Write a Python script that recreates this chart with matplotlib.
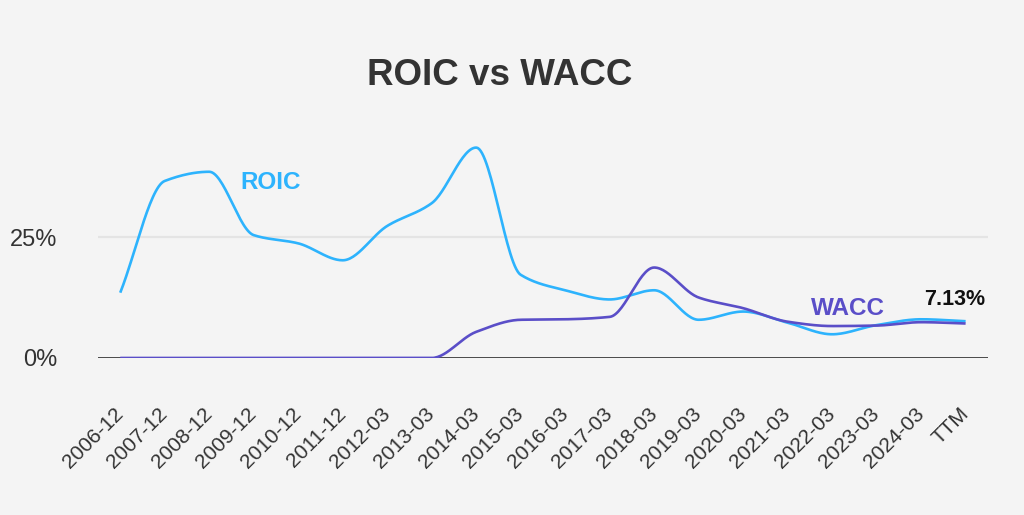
import numpy as np
import matplotlib
matplotlib.use("Agg")
import matplotlib.pyplot as plt
from matplotlib.ticker import FixedLocator

# data (percent)
periods = ["2006-12", "2007-12", "2008-12", "2009-12", "2010-12", "2011-12",
           "2012-03", "2013-03", "2014-03", "2015-03", "2016-03", "2017-03",
           "2018-03", "2019-03", "2020-03", "2021-03", "2022-03", "2023-03",
           "2024-03", "TTM"]
roic = [13.5, 36.6, 38.5, 25.4, 23.7, 20.2, 27.3, 32.0, 43.5, 17.2,
        14.0, 12.1, 14.0, 7.9, 9.6, 7.3, 4.9, 6.8, 8.0, 7.6]
wacc = [0.0, 0.0, 0.0, 0.0, 0.0, 0.0, 0.0, 0.0, 5.4, 7.9,
        8.0, 8.5, 18.7, 12.5, 10.3, 7.5, 6.6, 6.7, 7.4, 7.13]
y_ticks = [0, 25]

roic_color = "#2db3fd"
wacc_color = "#5a4ec8"
bg = "#f4f4f4"


def smooth(values, steps=30):
    # monotone cubic curve through the points, only for drawing the line
    y = np.asarray(values, dtype=float)
    n = len(y)
    d = np.diff(y)
    m = np.zeros(n)
    m[0], m[-1] = d[0], d[-1]
    for i in range(1, n - 1):
        if d[i - 1] * d[i] > 0:
            m[i] = 2 * d[i - 1] * d[i] / (d[i - 1] + d[i])
    xs, ys = [], []
    t = np.linspace(0, 1, steps, endpoint=False)
    h00 = 2 * t ** 3 - 3 * t ** 2 + 1
    h10 = t ** 3 - 2 * t ** 2 + t
    h01 = -2 * t ** 3 + 3 * t ** 2
    h11 = t ** 3 - t ** 2
    for i in range(n - 1):
        xs.append(i + t)
        ys.append(h00 * y[i] + h10 * m[i] + h01 * y[i + 1] + h11 * m[i + 1])
    xs.append([n - 1])
    ys.append([y[-1]])
    return np.concatenate(xs), np.concatenate(ys)


plt.rcParams["font.family"] = ["Liberation Sans", "DejaVu Sans"]

fig = plt.figure(figsize=(10.24, 5.15), dpi=100, facecolor=bg)
ax = fig.add_axes([0.0957, 0.3049, 0.869, 0.432], facecolor=bg)

x = np.arange(len(periods))
ax.set_xlim(-0.5, len(periods) - 0.5)
ax.set_ylim(0, 46)

ax.axhline(25, color="#e4e4e4", lw=1.6, zorder=1)

xr, yr = smooth(roic)
xw, yw = smooth(wacc)
ax.plot(xr, yr, color=roic_color, lw=1.9, zorder=3, solid_capstyle="butt")
ax.plot(xw, yw, color=wacc_color, lw=1.9, zorder=4, solid_capstyle="butt")

ax.axhline(0, color="#3a3a3a", lw=2.0, zorder=2)

for s in ax.spines.values():
    s.set_visible(False)

ax.yaxis.set_major_locator(FixedLocator(y_ticks))
ax.set_yticklabels([f"{v}%" for v in y_ticks])
ax.tick_params(axis="y", length=0, pad=29, labelsize=17, labelcolor="#333333")

ax.set_xticks(x)
ax.set_xticklabels(periods, rotation=45, ha="right", va="center",
                   rotation_mode="anchor")
ax.tick_params(axis="x", length=0, pad=38, labelsize=15, labelcolor="#333333")

ax.text(3.37, 36.2, "ROIC", color=roic_color, fontsize=17.5, fontweight="bold",
        ha="center", va="center")
ax.text(16.36, 10.2, "WACC", color=wacc_color, fontsize=17.5, fontweight="bold",
        ha="center", va="center")
ax.text(18.76, 12.0, f"{wacc[-1]:.2f}%", color="#111111", fontsize=15.5,
        fontweight="bold", ha="center", va="center")

fig.text(0.488, 0.854, "ROIC vs WACC", ha="center", va="center",
         fontsize=26.5, fontweight="bold", color="#333333")

fig.savefig("out.png", dpi=100, facecolor=bg)
